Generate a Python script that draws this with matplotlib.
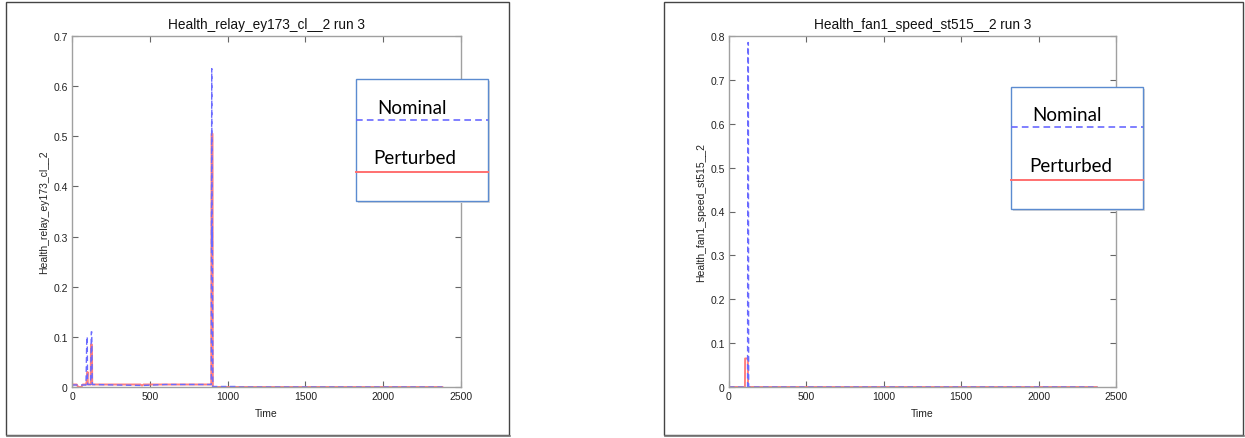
import matplotlib
matplotlib.use("Agg")
import matplotlib.pyplot as plt
from matplotlib.patches import Rectangle
from matplotlib.lines import Line2D

# ---------------- data ----------------
titles = ["Health_relay_ey173_cl__2 run 3", "Health_fan1_speed_st515__2 run 3"]
ylabels = ["Health_relay_ey173_cl__2", "Health_fan1_speed_st515__2"]
xlabel = "Time"
legend_labels = ["Nominal", "Perturbed"]

# left panel
relay_nom_t = [0, 90, 95, 98, 100, 120, 124, 127, 130, 450, 600, 700, 895, 898, 900, 902, 905, 1060, 1065, 2380]
relay_nom_v = [0.004, 0.004, 0.10, 0.10, 0.005, 0.005, 0.11, 0.11, 0.005, 0.003, 0.005, 0.005, 0.005, 0.635, 0.28, 0.32, 0.001, 0.001, 0.0, 0.0]
relay_per_t = [0, 30, 40, 60, 70, 90, 95, 100, 102, 120, 122, 128, 130, 440, 450, 460, 895, 897, 903, 905, 2380]
relay_per_v = [0.005, 0.005, 0.0, 0.0, 0.005, 0.005, 0.012, 0.03, 0.005, 0.005, 0.085, 0.085, 0.005, 0.005, 0.003, 0.005, 0.005, 0.505, 0.505, 0.0, 0.0]

# right panel
fan_nom_t = [0, 120, 122, 125, 127, 2380]
fan_nom_v = [0.0, 0.0, 0.785, 0.785, 0.0, 0.0]
fan_per_t = [0, 103, 104, 122, 123, 2375]
fan_per_v = [0.0, 0.0, 0.065, 0.065, 0.0, 0.0]

xticks = [0, 500, 1000, 1500, 2000, 2500]
yticks_left = [0, 0.1, 0.2, 0.3, 0.4, 0.5, 0.6, 0.7]
yticks_right = [0, 0.1, 0.2, 0.3, 0.4, 0.5, 0.6, 0.7, 0.8]

# ---------------- styling ----------------
W, H = 1245, 439
BLUE = "#6a6aff"
RED = "#ff7070"
SPINE = "#a0a0a0"

plt.rcParams['font.family'] = ['Liberation Sans', 'DejaVu Sans']

fig = plt.figure(figsize=(W / 100, H / 100), dpi=100)
fig.patch.set_facecolor("white")


def fx(px):
    return px / W


def fy(py):
    return 1 - py / H


def frame(x0, x1, y0, y1):
    fig.add_artist(Rectangle((fx(x0), fy(y1)), fx(x1) - fx(x0), fy(y0) - fy(y1),
                             transform=fig.transFigure, fill=False,
                             edgecolor="#444444", linewidth=1.0))
    fig.add_artist(Line2D([fx(x0 + 1), fx(x1 + 1)], [fy(y1 + 1), fy(y1 + 1)],
                          transform=fig.transFigure, color="#777777", linewidth=1.2))


def make_axes(x0, x1, y0, y1, ymax, yticks, title, ylabel,
              nt, nv, pt, pv):
    ax = fig.add_axes([fx(x0), fy(y1), fx(x1) - fx(x0), fy(y0) - fy(y1)])
    ax.plot(pt, pv, color=RED, linewidth=1.4, linestyle='-', alpha=0.9)
    ax.plot(nt, nv, color=BLUE, linewidth=1.0, linestyle=(0, (4, 2.5)))
    ax.set_xlim(0, 2500)
    ax.set_ylim(0, ymax)
    ax.set_xticks(xticks)
    ax.set_yticks(yticks)
    ax.set_xticklabels([str(t) for t in xticks])
    ax.set_yticklabels(["0" if t == 0 else f"{t:g}" for t in yticks])
    ax.tick_params(direction='in', top=True, right=True, length=4,
                   width=0.8, color="#666666", labelsize=7.5, pad=3,
                   labelcolor="#222222")
    for s in ax.spines.values():
        s.set_color(SPINE)
        s.set_linewidth(1.0)
    ax.set_title(title, fontsize=9.8, pad=6, color="#111111")
    ax.set_xlabel(xlabel, fontsize=7.5, labelpad=5, color="#222222")
    ax.set_ylabel(ylabel, fontsize=7.5, labelpad=3, color="#222222")
    return ax


def legend_box(x0, x1, y0, y1, tx_nom, ty_nom, ly_nom, tx_per, ty_per, ly_per):
    fig.add_artist(Rectangle((fx(x0 + 2), fy(y1 + 2)), fx(x1) - fx(x0), fy(y0) - fy(y1),
                             transform=fig.transFigure, facecolor="#d8d8d8",
                             edgecolor="none", zorder=9))
    fig.add_artist(Rectangle((fx(x0), fy(y1)), fx(x1) - fx(x0), fy(y0) - fy(y1),
                             transform=fig.transFigure, facecolor="white",
                             edgecolor="#5b8bd0", linewidth=1.0, zorder=10))
    fig.add_artist(Line2D([fx(x0), fx(x1)], [fy(ly_nom), fy(ly_nom)],
                          transform=fig.transFigure, color=BLUE, linewidth=1.2,
                          linestyle=(0, (4, 2.5)), zorder=11))
    fig.add_artist(Line2D([fx(x0), fx(x1)], [fy(ly_per), fy(ly_per)],
                          transform=fig.transFigure, color=RED, linewidth=1.4, zorder=11))
    fig.text(fx(tx_nom), fy(ty_nom), legend_labels[0], fontsize=13.5,
             family=['Lato', 'DejaVu Sans'], va='center', ha='left', zorder=12)
    fig.text(fx(tx_per), fy(ty_per), legend_labels[1], fontsize=13.5,
             family=['Lato', 'DejaVu Sans'], va='center', ha='left', zorder=12)


frame(6, 509, 3, 436)
frame(664, 1243, 3, 436)

make_axes(72, 461, 37, 388, 0.7, yticks_left, titles[0], ylabels[0],
          relay_nom_t, relay_nom_v, relay_per_t, relay_per_v)
make_axes(729, 1116, 37, 388, 0.8, yticks_right, titles[1], ylabels[1],
          fan_nom_t, fan_nom_v, fan_per_t, fan_per_v)

legend_box(356, 488, 80, 202, 377, 108, 121, 373, 159, 173)
legend_box(1011, 1143, 88, 210, 1032, 116, 128, 1029, 167, 181)

fig.savefig("out.png", dpi=100)
